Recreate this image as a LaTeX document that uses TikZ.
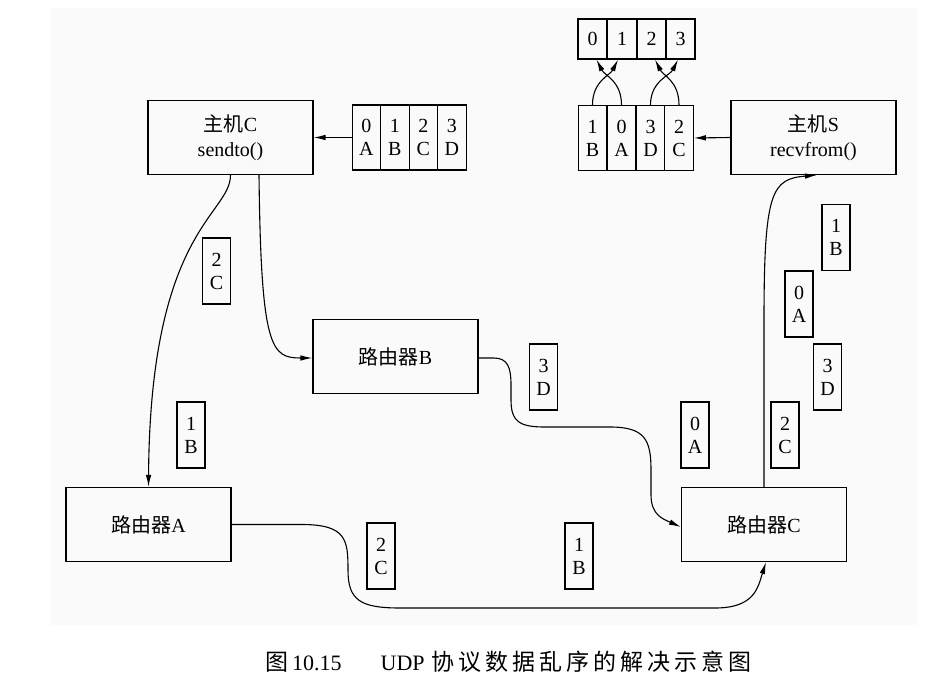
\documentclass[tikz,border=0pt]{standalone}
\usepackage{fontspec}
\setmainfont{Liberation Serif}
\newfontfamily\cjk{Noto Sans CJK SC}
\usetikzlibrary{arrows.meta}
\def\lsp#1{\ifx#1\relax\else#1\kern4pt\expandafter\lsp\fi}
\begin{document}
\begin{tikzpicture}[x=1pt,y=-1pt,
  box/.style={draw, line width=1.1pt, inner sep=0pt, minimum width=165pt, minimum height=74pt,
    font=\fontsize{20}{25}\selectfont, align=center},
  cell/.style={draw, line width=1.1pt, inner sep=0pt, minimum width=28.5pt, minimum height=65pt,
    font=\fontsize{20}{23}\selectfont, align=center},
  pkt/.style={cell, minimum width=28pt, minimum height=66pt},
  topcell/.style={draw, line width=1.1pt, inner sep=0pt, minimum width=29pt, minimum height=40pt,
    font=\fontsize{20}{23}\selectfont},
  arr/.style={line width=1.1pt, -{Latex[length=12pt,width=5.5pt]}}]
\useasboundingbox (0,0) rectangle (931,693);
\fill[black!2] (50,8) rectangle (917,625);

% hosts and routers
\node[box] (hostC) at (230.5,137.5) {{\cjk 主机}C\\sendto()};
\node[box] (hostS) at (813.5,137.5) {{\cjk 主机}S\\recvfrom()};
\node[box] (rA) at (148.5,524.5) {{\cjk 路由器}A};
\node[box] (rB) at (395.5,356.5) {{\cjk 路由器}B};
\node[box] (rC) at (764,524.5) {{\cjk 路由器}C};

% send buffer at host C
\node[cell] (c0) at (366.3,137.5) {0\\A};
\node[cell] (c1) at (394.8,137.5) {1\\B};
\node[cell] (c2) at (423.3,137.5) {2\\C};
\node[cell] (c3) at (451.8,137.5) {3\\D};

% receive buffer at host S
\node[cell] (s0) at (592.5,138) {1\\B};
\node[cell] (s1) at (621.5,138) {0\\A};
\node[cell] (s2) at (650.5,138) {3\\D};
\node[cell] (s3) at (679,138) {2\\C};

% reordered array
\node[topcell] (t0) at (592.5,39) {0};
\node[topcell] (t1) at (622,39) {1};
\node[topcell] (t2) at (651.5,39) {2};
\node[topcell] (t3) at (680.5,39) {3};

% packets in transit
\node[pkt] (p1) at (836,237.5) {1\\B};
\node[pkt] (p2) at (799,304) {0\\A};
\node[pkt] (p3) at (827.5,377) {3\\D};
\node[pkt] (p4) at (785,435) {2\\C};
\node[pkt] (p5) at (695,435) {0\\A};
\node[pkt] (p6) at (543.5,377) {3\\D};
\node[pkt] (p7) at (216.5,271) {2\\C};
\node[pkt] (p8) at (191,435) {1\\B};
\node[pkt] (p9) at (381,556) {2\\C};
\node[pkt] (p10) at (579,556) {1\\B};

% buffer arrows
\draw[arr] (c0.west) -- (hostC.east);
\draw[arr] (hostS.west) -- (s3.east);

% crossing arrows
\draw[arr] (s0.north) .. controls +(0,-24) and +(-8,16) .. ([xshift=-4pt]t1.south);
\draw[arr] (s1.north) .. controls +(0,-24) and +(8,16) .. ([xshift=4pt]t0.south);
\draw[arr] (s2.north) .. controls +(0,-24) and +(-8,16) .. ([xshift=-2.5pt]t3.south);
\draw[arr] (s3.north) .. controls +(0,-24) and +(8,16) .. ([xshift=3.5pt]t2.south);

% routes
\draw[arr] (hostC.south) .. controls +(0,40) and +(1.5,-258) .. (rA.north);
\draw[arr] ([xshift=28.5pt]hostC.south) .. controls +(2,175) and +(-41,0) .. ([yshift=-1.5pt]rB.west);
\draw[arr] (rA.east) -- +(70,0) .. controls +(45,0) and +(0,-30) .. (348,570)
  .. controls +(0,30) and +(-40,0) .. (400,608) -- (715,608)
  .. controls +(40,0) and +(-8,25) .. ([xshift=2pt]rC.south);
\draw[arr] ([yshift=-1.5pt]rB.east) -- +(15,0) .. controls +(14,0) and +(0,-18) .. (511,385) -- (511,400)
  .. controls +(0,22) and +(-25,0) .. (545,427) -- (610,427)
  .. controls +(35,0) and +(0,-30) .. (651,470) -- (651,495)
  .. controls +(0,20) and +(-18,-8) .. ([yshift=-2.5pt]rC.west);
\draw[arr] (rC.north) -- (764,320) .. controls +(0,-130) and +(-45,4) .. ([xshift=3.5pt]hostS.south);

% caption
\node[anchor=west, inner sep=0pt, font=\fontsize{22}{26}\selectfont] (cap) at (265,662)
  {{\fontsize{23}{26}\selectfont\cjk 图}\kern4pt 10.15\kern39pt UDP\kern7pt{\fontsize{23}{26}\selectfont\cjk\lsp 协议数据乱序的解决示意图\relax}};
\end{tikzpicture}
\end{document}
